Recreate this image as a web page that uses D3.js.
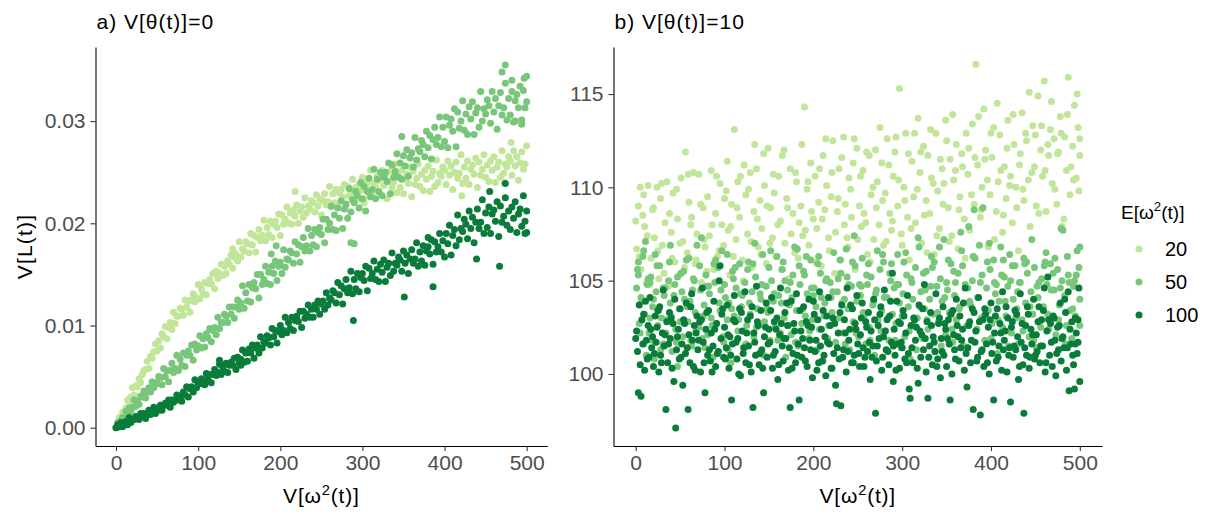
<!DOCTYPE html>
<html>
<head>
<meta charset="utf-8">
<script src="https://cdn.jsdelivr.net/npm/d3@7"></script>
<style>
  html, body { margin: 0; padding: 0; background: #fff; }
  svg { display: block; }
  text { font-family: "Liberation Sans", Arial, sans-serif; }
</style>
</head>
<body>
<svg id="chart" width="1216" height="517"></svg>
<script>
// ---------------- DATA ----------------
const categories = ["20", "50", "100"];
const panelTitles = ["a) V[θ(t)]=0", "b) V[θ(t)]=10"];
const xTicks = [0, 100, 200, 300, 400, 500];
const yTicksA = [0, 0.01, 0.02, 0.03];
const yTicksB = [100, 105, 110, 115];

// Panel a: V[θ(t)]=0  — [V[ω²(t)], V[L(t)]]
const lightA = [[0,0.0000],[2,0.0001],[4,0.0010],[6,0.0009],[8,0.0015],[10,0.0011],[12,0.0019],[14,0.0027],[16,0.0024],[18,0.0030],[20,0.0039],[22,0.0032],[24,0.0041],[26,0.0040],[28,0.0048],[30,0.0044],[32,0.0052],[34,0.0056],[36,0.0057],[38,0.0065],[40,0.0058],[42,0.0070],[44,0.0068],[46,0.0074],[48,0.0082],[50,0.0075],[52,0.0085],[54,0.0078],[56,0.0092],[58,0.0089],[60,0.0099],[62,0.0087],[64,0.0098],[66,0.0103],[68,0.0096],[70,0.0113],[72,0.0102],[74,0.0109],[76,0.0109],[78,0.0117],[80,0.0116],[82,0.0110],[84,0.0125],[86,0.0118],[88,0.0124],[90,0.0113],[92,0.0125],[94,0.0131],[96,0.0123],[98,0.0127],[100,0.0140],[102,0.0126],[104,0.0136],[106,0.0131],[108,0.0142],[110,0.0130],[112,0.0141],[114,0.0145],[116,0.0141],[118,0.0151],[120,0.0136],[122,0.0153],[124,0.0146],[126,0.0151],[128,0.0160],[130,0.0149],[132,0.0158],[134,0.0151],[136,0.0163],[138,0.0160],[140,0.0169],[142,0.0156],[144,0.0167],[146,0.0170],[148,0.0163],[150,0.0182],[152,0.0167],[154,0.0175],[156,0.0173],[158,0.0182],[160,0.0180],[162,0.0171],[164,0.0190],[166,0.0179],[168,0.0188],[170,0.0172],[172,0.0186],[174,0.0194],[176,0.0183],[178,0.0188],[180,0.0203],[182,0.0183],[184,0.0196],[186,0.0189],[188,0.0202],[190,0.0186],[192,0.0199],[194,0.0202],[196,0.0196],[198,0.0209],[200,0.0188],[202,0.0208],[204,0.0199],[206,0.0204],[208,0.0216],[210,0.0200],[212,0.0210],[214,0.0199],[216,0.0213],[218,0.0207],[220,0.0218],[222,0.0200],[224,0.0212],[226,0.0216],[228,0.0206],[230,0.0225],[232,0.0210],[234,0.0217],[236,0.0214],[238,0.0222],[240,0.0220],[242,0.0211],[244,0.0228],[246,0.0217],[248,0.0224],[250,0.0208],[252,0.0222],[254,0.0229],[256,0.0218],[258,0.0221],[260,0.0236],[262,0.0216],[264,0.0229],[266,0.0220],[268,0.0233],[270,0.0217],[272,0.0230],[274,0.0233],[276,0.0226],[278,0.0238],[280,0.0217],[282,0.0236],[284,0.0227],[286,0.0231],[288,0.0243],[290,0.0226],[292,0.0235],[294,0.0224],[296,0.0238],[298,0.0232],[300,0.0245],[302,0.0220],[304,0.0236],[306,0.0240],[308,0.0226],[310,0.0252],[312,0.0230],[314,0.0239],[316,0.0236],[318,0.0246],[320,0.0242],[322,0.0228],[324,0.0252],[326,0.0237],[328,0.0247],[330,0.0224],[332,0.0241],[334,0.0251],[336,0.0235],[338,0.0240],[340,0.0258],[342,0.0230],[344,0.0246],[346,0.0235],[348,0.0252],[350,0.0229],[352,0.0244],[354,0.0248],[356,0.0239],[358,0.0255],[360,0.0226],[362,0.0251],[364,0.0238],[366,0.0244],[368,0.0258],[370,0.0236],[372,0.0248],[374,0.0232],[376,0.0252],[378,0.0243],[380,0.0256],[382,0.0231],[384,0.0246],[386,0.0251],[388,0.0236],[390,0.0262],[392,0.0240],[394,0.0249],[396,0.0246],[398,0.0255],[400,0.0252],[402,0.0238],[404,0.0261],[406,0.0247],[408,0.0256],[410,0.0233],[412,0.0250],[414,0.0260],[416,0.0244],[418,0.0249],[420,0.0267],[422,0.0239],[424,0.0255],[426,0.0244],[428,0.0261],[430,0.0238],[432,0.0253],[434,0.0257],[436,0.0248],[438,0.0264],[440,0.0235],[442,0.0260],[444,0.0247],[446,0.0253],[448,0.0267],[450,0.0245],[452,0.0257],[454,0.0241],[456,0.0261],[458,0.0252],[460,0.0265],[462,0.0240],[464,0.0255],[466,0.0260],[468,0.0245],[470,0.0271],[472,0.0249],[474,0.0258],[476,0.0255],[478,0.0265],[480,0.0261],[482,0.0247],[484,0.0271],[486,0.0256],[488,0.0265],[490,0.0242],[492,0.0259],[494,0.0270],[496,0.0253],[498,0.0258],[500,0.0276],
[142,0.0175],[218,0.0231],[421,0.0227],[473,0.0240],[481,0.0279]];

const midA = [[0,0.0000],[2,0.0005],[4,0.0001],[6,0.0007],[8,0.0010],[10,0.0009],[12,0.0016],[14,0.0008],[16,0.0019],[18,0.0016],[20,0.0020],[22,0.0027],[24,0.0021],[26,0.0026],[28,0.0023],[30,0.0031],[32,0.0030],[34,0.0036],[36,0.0029],[38,0.0035],[40,0.0039],[42,0.0035],[44,0.0045],[46,0.0039],[48,0.0044],[50,0.0043],[52,0.0050],[54,0.0049],[56,0.0042],[58,0.0058],[60,0.0050],[62,0.0056],[64,0.0045],[66,0.0056],[68,0.0063],[70,0.0054],[72,0.0058],[74,0.0071],[76,0.0056],[78,0.0067],[80,0.0061],[82,0.0073],[84,0.0060],[86,0.0071],[88,0.0075],[90,0.0071],[92,0.0081],[94,0.0066],[96,0.0082],[98,0.0076],[100,0.0080],[102,0.0090],[104,0.0078],[106,0.0087],[108,0.0079],[110,0.0092],[112,0.0088],[114,0.0097],[116,0.0084],[118,0.0095],[120,0.0098],[122,0.0091],[124,0.0108],[126,0.0097],[128,0.0103],[130,0.0103],[132,0.0111],[134,0.0109],[136,0.0103],[138,0.0118],[140,0.0111],[142,0.0118],[144,0.0107],[146,0.0118],[148,0.0125],[150,0.0116],[152,0.0122],[154,0.0139],[156,0.0117],[158,0.0132],[160,0.0124],[162,0.0140],[164,0.0123],[166,0.0137],[168,0.0142],[170,0.0136],[172,0.0150],[174,0.0127],[176,0.0150],[178,0.0140],[180,0.0145],[182,0.0158],[184,0.0141],[186,0.0152],[188,0.0140],[190,0.0158],[192,0.0151],[194,0.0163],[196,0.0144],[198,0.0158],[200,0.0162],[202,0.0151],[204,0.0174],[206,0.0157],[208,0.0165],[210,0.0164],[212,0.0173],[214,0.0171],[216,0.0161],[218,0.0182],[220,0.0170],[222,0.0179],[224,0.0162],[226,0.0177],[228,0.0186],[230,0.0173],[232,0.0178],[234,0.0195],[236,0.0173],[238,0.0188],[240,0.0179],[242,0.0194],[244,0.0177],[246,0.0191],[248,0.0196],[250,0.0189],[252,0.0204],[254,0.0181],[256,0.0204],[258,0.0194],[260,0.0200],[262,0.0217],[264,0.0194],[266,0.0208],[268,0.0193],[270,0.0215],[272,0.0205],[274,0.0222],[276,0.0195],[278,0.0214],[280,0.0219],[282,0.0205],[284,0.0234],[286,0.0211],[288,0.0223],[290,0.0220],[292,0.0231],[294,0.0227],[296,0.0215],[298,0.0240],[300,0.0224],[302,0.0236],[304,0.0212],[306,0.0231],[308,0.0244],[310,0.0226],[312,0.0233],[314,0.0253],[316,0.0224],[318,0.0243],[320,0.0231],[322,0.0250],[324,0.0227],[326,0.0245],[328,0.0250],[330,0.0241],[332,0.0259],[334,0.0229],[336,0.0257],[338,0.0245],[340,0.0251],[342,0.0268],[344,0.0245],[346,0.0259],[348,0.0243],[350,0.0266],[352,0.0256],[354,0.0272],[356,0.0246],[358,0.0264],[360,0.0269],[362,0.0255],[364,0.0284],[366,0.0262],[368,0.0273],[370,0.0270],[372,0.0281],[374,0.0277],[376,0.0265],[378,0.0290],[380,0.0274],[382,0.0286],[384,0.0263],[386,0.0282],[388,0.0294],[390,0.0277],[392,0.0284],[394,0.0304],[396,0.0275],[398,0.0294],[400,0.0280],[402,0.0304],[404,0.0274],[406,0.0296],[408,0.0302],[410,0.0290],[412,0.0312],[414,0.0275],[416,0.0309],[418,0.0293],[420,0.0300],[422,0.0320],[424,0.0291],[426,0.0307],[428,0.0287],[430,0.0314],[432,0.0302],[434,0.0319],[436,0.0287],[438,0.0308],[440,0.0313],[442,0.0294],[444,0.0329],[446,0.0300],[448,0.0312],[450,0.0307],[452,0.0321],[454,0.0315],[456,0.0298],[458,0.0329],[460,0.0309],[462,0.0322],[464,0.0292],[466,0.0315],[468,0.0328],[470,0.0306],[472,0.0313],[474,0.0337],[476,0.0301],[478,0.0322],[480,0.0306],[482,0.0329],[484,0.0299],[486,0.0320],[488,0.0326],[490,0.0313],[492,0.0334],[494,0.0297],[496,0.0330],[498,0.0313],[500,0.0319],
[189,0.0170],[195,0.0178],[286,0.0181],[290,0.0180],[348,0.0285],[470,0.0348],[474,0.0355],[482,0.0340],[486,0.0300],[494,0.0301],[497,0.0342],[500,0.0344]];

const darkA = [[0,0.0000],[2,0.0003],[4,0.0001],[6,0.0005],[8,0.0001],[10,0.0004],[12,0.0006],[14,0.0003],[16,0.0010],[18,0.0005],[20,0.0008],[22,0.0008],[24,0.0011],[26,0.0010],[28,0.0008],[30,0.0014],[32,0.0011],[34,0.0014],[36,0.0009],[38,0.0013],[40,0.0017],[42,0.0013],[44,0.0016],[46,0.0020],[48,0.0014],[50,0.0019],[52,0.0017],[54,0.0022],[56,0.0017],[58,0.0022],[60,0.0024],[62,0.0022],[64,0.0027],[66,0.0020],[68,0.0027],[70,0.0025],[72,0.0027],[74,0.0032],[76,0.0027],[78,0.0031],[80,0.0026],[82,0.0035],[84,0.0032],[86,0.0040],[88,0.0030],[90,0.0038],[92,0.0040],[94,0.0035],[96,0.0047],[98,0.0039],[100,0.0043],[102,0.0043],[104,0.0048],[106,0.0047],[108,0.0042],[110,0.0053],[112,0.0047],[114,0.0052],[116,0.0044],[118,0.0052],[120,0.0057],[122,0.0051],[124,0.0054],[126,0.0062],[128,0.0052],[130,0.0059],[132,0.0055],[134,0.0063],[136,0.0054],[138,0.0061],[140,0.0064],[142,0.0061],[144,0.0068],[146,0.0057],[148,0.0069],[150,0.0063],[152,0.0067],[154,0.0076],[156,0.0064],[158,0.0073],[160,0.0065],[162,0.0077],[164,0.0073],[166,0.0081],[168,0.0068],[170,0.0078],[172,0.0081],[174,0.0073],[176,0.0089],[178,0.0078],[180,0.0084],[182,0.0083],[184,0.0090],[186,0.0088],[188,0.0081],[190,0.0097],[192,0.0089],[194,0.0095],[196,0.0083],[198,0.0094],[200,0.0100],[202,0.0091],[204,0.0095],[206,0.0108],[208,0.0093],[210,0.0103],[212,0.0097],[214,0.0108],[216,0.0095],[218,0.0105],[220,0.0109],[222,0.0104],[224,0.0114],[226,0.0098],[228,0.0114],[230,0.0107],[232,0.0111],[234,0.0120],[236,0.0108],[238,0.0116],[240,0.0108],[242,0.0120],[244,0.0116],[246,0.0124],[248,0.0111],[250,0.0121],[252,0.0124],[254,0.0116],[256,0.0132],[258,0.0120],[260,0.0127],[262,0.0125],[264,0.0134],[266,0.0132],[268,0.0122],[270,0.0142],[272,0.0130],[274,0.0139],[276,0.0121],[278,0.0136],[280,0.0145],[282,0.0132],[284,0.0137],[286,0.0153],[288,0.0131],[290,0.0145],[292,0.0136],[294,0.0151],[296,0.0133],[298,0.0147],[300,0.0151],[302,0.0144],[304,0.0158],[306,0.0134],[308,0.0156],[310,0.0146],[312,0.0151],[314,0.0163],[316,0.0145],[318,0.0155],[320,0.0143],[322,0.0160],[324,0.0152],[326,0.0164],[328,0.0143],[330,0.0157],[332,0.0161],[334,0.0149],[336,0.0171],[338,0.0153],[340,0.0161],[342,0.0159],[344,0.0167],[346,0.0164],[348,0.0153],[350,0.0173],[352,0.0161],[354,0.0169],[356,0.0151],[358,0.0165],[360,0.0174],[362,0.0161],[364,0.0165],[366,0.0181],[368,0.0158],[370,0.0172],[372,0.0163],[374,0.0178],[376,0.0159],[378,0.0173],[380,0.0177],[382,0.0170],[384,0.0184],[386,0.0160],[388,0.0182],[390,0.0172],[392,0.0177],[394,0.0190],[396,0.0172],[398,0.0183],[400,0.0167],[402,0.0190],[404,0.0180],[406,0.0198],[408,0.0169],[410,0.0188],[412,0.0194],[414,0.0178],[416,0.0208],[418,0.0184],[420,0.0195],[422,0.0192],[424,0.0204],[426,0.0199],[428,0.0185],[430,0.0212],[432,0.0195],[434,0.0206],[436,0.0181],[438,0.0201],[440,0.0214],[442,0.0195],[444,0.0201],[446,0.0223],[448,0.0190],[450,0.0210],[452,0.0196],[454,0.0216],[456,0.0190],[458,0.0209],[460,0.0213],[462,0.0202],[464,0.0221],[466,0.0187],[468,0.0217],[470,0.0201],[472,0.0207],[474,0.0225],[476,0.0198],[478,0.0212],[480,0.0194],[482,0.0216],[484,0.0205],[486,0.0221],[488,0.0191],[490,0.0209],[492,0.0214],[494,0.0197],[496,0.0227],[498,0.0202],[500,0.0212],
[126,0.0066],[152,0.0061],[289,0.0105],[351,0.0128],[380,0.0186],[386,0.0138],[439,0.0165],[455,0.0231],[467,0.0158],[474,0.0239],[498,0.0190],[500,0.0191]];

// Panel b: V[θ(t)]=10
const lightB = [[1,106.7],[3,109.0],[5,110.0],[6,105.6],[8,108.5],[10,107.9],[12,104.9],[14,110.1],[17,106.2],[19,108.8],[21,107.3],[24,110.0],[26,105.1],[28,109.4],[30,106.9],[33,108.1],[35,110.3],[37,104.7],[40,107.6],[42,109.7],[44,106.0],[47,108.3],[49,105.3],[51,110.5],[53,107.1],[56,111.9],[58,106.5],[60,109.2],[62,108.0],[65,110.8],[67,105.9],[69,107.5],[71,110.7],[74,104.9],[76,108.9],[78,106.8],[81,109.5],[83,107.4],[85,110.9],[88,105.6],[90,108.6],[92,106.3],[95,110.2],[97,108.0],[99,106.9],[102,109.8],[104,107.7],[106,105.3],[108,109.1],[111,113.1],[113,107.2],[115,110.3],[117,108.4],[120,106.1],[122,111.2],[124,109.6],[126,107.5],[129,110.8],[131,105.7],[133,108.7],[136,111.0],[138,106.8],[140,109.3],[142,107.8],[145,110.1],[147,105.9],[149,112.1],[152,108.9],[154,107.3],[156,109.7],[158,106.3],[161,110.6],[163,108.2],[165,111.7],[168,107.0],[170,109.4],[172,105.1],[174,111.0],[177,108.6],[179,106.5],[181,110.3],[184,108.1],[186,109.0],[188,107.4],[190,114.3],[193,109.9],[195,106.9],[197,111.3],[200,108.3],[202,110.6],[204,107.8],[206,109.2],[209,105.8],[211,111.7],[213,108.8],[215,110.1],[218,106.6],[220,109.5],[222,112.5],[225,107.6],[227,108.7],[229,111.0],[231,106.1],[234,112.7],[236,109.1],[238,107.3],[240,110.5],[243,108.4],[245,111.3],[247,105.6],[249,112.1],[252,109.0],[254,107.9],[256,110.9],[259,108.1],[261,106.4],[263,111.7],[265,109.6],[268,107.2],[270,112.0],[272,110.3],[274,108.0],[277,111.3],[279,106.9],[281,109.7],[283,112.6],[286,108.6],[288,107.7],[290,110.6],[292,111.9],[295,109.0],[297,115.3],[299,107.5],[302,110.0],[304,112.9],[306,108.4],[308,106.1],[311,111.4],[313,109.5],[315,108.1],[318,113.7],[320,110.8],[322,107.0],[324,112.2],[327,109.3],[329,111.7],[331,108.6],[333,110.5],[336,106.4],[338,112.9],[340,109.8],[342,107.8],[345,111.0],[347,110.2],[349,113.6],[352,108.9],[354,111.5],[356,107.4],[358,110.4],[361,112.3],[363,106.7],[365,109.5],[367,111.8],[370,108.3],[372,112.9],[374,110.7],[376,107.7],[379,113.4],[381,109.1],[383,116.6],[385,111.2],[388,108.4],[390,110.0],[392,114.2],[394,112.0],[397,106.8],[399,109.6],[401,111.6],[403,113.2],[406,108.7],[408,110.3],[410,112.8],[413,107.6],[415,111.1],[417,109.4],[419,113.6],[422,110.6],[424,108.1],[426,112.3],[428,110.0],[431,106.6],[433,111.8],[435,114.0],[437,109.3],[440,112.5],[442,110.4],[444,107.9],[447,113.3],[449,111.1],[451,109.0],[453,114.9],[456,112.0],[458,110.6],[460,115.7],[462,108.7],[465,111.7],[467,113.1],[469,110.2],[471,112.6],[474,109.1],[476,111.9],[478,113.8],[480,107.9],[483,112.7],[485,110.9],[487,115.9],[489,109.6],[492,112.2],[494,114.4],[496,110.5],[498,113.2],[499,109.8],[500,111.7],
[0,108.2],[4,106.3],[9,109.6],[13,107.4],[16,104.8],[20,108.9],[25,106.6],[29,110.2],[32,105.4],[38,108.6],[41,106.2],[46,109.9],[50,107.0],[55,105.7],[59,110.7],[63,108.4],[68,106.1],[73,109.1],[77,107.2],[80,105.5],[86,108.0],[91,110.6],[94,106.6],[100,109.4],[103,111.4],[107,107.9],[110,106.3],[114,108.9],[118,110.6],[121,105.0],[127,109.9],[130,107.1],[134,112.3],[137,108.3],[141,106.4],[144,111.8],[148,109.0],[151,107.0],[155,110.7],[160,108.0],[164,105.6],[167,112.0],[171,108.9],[175,107.5],[180,110.8],[183,106.2],[187,112.3],[191,107.7],[194,110.3],[198,108.7],[203,106.0],[207,111.0],[210,108.3],[214,112.6],[217,107.3],[221,110.8],[224,105.4],[228,109.4],[232,111.6],[235,108.0],[239,106.8],[242,109.9],[246,112.6],[250,107.2],[253,110.6],[257,108.6],[260,111.9],[264,106.0],[267,110.0],[271,108.9],[275,113.2],[278,109.3],[282,107.1],[285,111.2],[289,108.2],[293,112.7],[296,110.4],[300,106.9],[303,109.3],[307,111.8],[310,107.8],[314,112.9],[317,109.9],[321,111.9],[325,108.5],[328,106.5],[332,113.1],[335,110.2],[339,107.4],[343,111.5],[346,109.1],[350,112.5],[353,107.1],[357,113.9],[360,110.9],[364,108.8],[368,111.1],[371,106.2],[375,112.1],[378,109.6],[382,111.6],[386,113.8],[389,108.8],[393,111.5],[396,110.4],[400,112.9],[404,107.2],[407,114.5],[411,110.9],[414,108.5],[418,112.1],[421,110.1],[425,113.9],[429,108.9],[432,111.2],[436,109.9],[439,112.9],[443,115.1],[446,110.8],[450,112.8],[454,108.6],[457,113.3],[461,110.9],[464,112.3],[468,114.6],[472,109.9],[475,111.8],[479,112.9],[482,108.3],[486,113.9],[490,111.1],[493,110.4],[497,115.0],[500,112.6]];

const midB = [[2,105.6],[4,102.7],[6,104.1],[8,106.3],[10,103.2],[11,107.1],[12,101.0],[13,104.8],[15,102.2],[17,105.2],[19,103.6],[21,100.8],[23,104.4],[25,102.6],[27,105.8],[29,103.0],[31,101.6],[33,104.6],[35,102.9],[37,105.0],[39,103.8],[41,101.2],[43,104.2],[45,102.4],[47,100.4],[49,103.5],[51,105.4],[53,102.0],[55,104.0],[57,106.1],[59,102.8],[61,103.9],[63,101.5],[65,105.1],[67,103.3],[69,106.9],[71,102.5],[73,104.5],[75,101.9],[77,103.7],[79,105.3],[81,102.1],[83,104.3],[85,103.0],[87,100.9],[89,104.9],[91,102.7],[93,105.7],[95,103.4],[97,106.6],[99,101.7],[101,104.1],[103,102.9],[105,103.8],[107,100.6],[109,105.5],[111,103.1],[113,104.6],[115,102.3],[117,105.9],[119,103.6],[121,101.4],[123,104.9],[125,102.6],[127,106.0],[129,103.2],[131,104.4],[133,102.0],[135,105.2],[137,103.5],[139,101.1],[141,104.0],[143,106.4],[145,102.8],[147,104.7],[149,103.3],[151,101.8],[153,105.0],[155,103.9],[157,102.5],[159,106.3],[161,104.2],[163,102.2],[165,105.6],[167,103.0],[169,100.9],[171,104.5],[173,103.7],[175,102.1],[177,105.3],[179,106.8],[181,103.4],[183,101.5],[185,104.8],[187,102.7],[189,105.5],[191,103.1],[193,104.3],[195,101.9],[197,106.1],[199,102.9],[201,104.6],[203,103.6],[205,105.9],[207,102.4],[209,104.1],[211,100.7],[213,103.8],[215,105.1],[217,102.6],[219,104.9],[221,103.3],[223,106.5],[225,101.7],[227,104.4],[229,103.0],[231,105.4],[233,102.2],[235,104.0],[237,106.7],[239,103.5],[241,101.3],[243,104.7],[245,102.8],[247,105.8],[249,103.9],[251,102.0],[253,104.2],[255,106.2],[257,103.1],[259,101.6],[261,104.8],[263,102.5],[265,105.2],[267,103.7],[269,101.0],[271,104.5],[273,102.9],[275,105.6],[277,103.4],[279,106.0],[281,102.3],[283,104.1],[285,101.8],[287,105.0],[289,103.2],[291,104.6],[293,102.7],[295,106.4],[297,103.8],[299,101.4],[301,104.3],[303,102.0],[305,105.3],[307,103.6],[309,100.8],[311,104.9],[313,102.6],[315,105.7],[317,103.0],[319,106.8],[321,104.4],[323,101.9],[325,103.5],[327,105.5],[329,102.4],[331,104.0],[333,106.3],[335,103.2],[337,101.2],[339,104.7],[341,102.8],[343,105.1],[345,103.9],[347,107.2],[349,102.1],[351,104.5],[353,103.3],[355,105.9],[357,101.7],[359,104.2],[361,102.9],[363,105.4],[365,103.6],[367,106.6],[369,101.5],[371,104.8],[373,102.6],[375,107.9],[377,103.7],[379,105.0],[381,108.8],[383,102.3],[385,104.1],[387,106.9],[389,103.0],[391,108.9],[393,101.8],[395,104.6],[397,103.4],[399,105.6],[401,102.7],[403,106.1],[405,104.3],[407,101.1],[409,103.9],[411,106.8],[413,102.5],[415,105.2],[417,103.1],[419,104.7],[421,106.4],[423,102.2],[425,104.0],[427,105.8],[429,103.5],[431,101.6],[433,104.9],[435,102.9],[437,106.2],[439,103.8],[441,105.4],[443,102.0],[445,104.4],[447,103.2],[449,105.7],[451,101.4],[453,104.1],[455,102.8],[457,105.1],[459,103.6],[461,106.0],[463,104.8],[465,102.4],[467,105.9],[469,103.0],[471,104.5],[473,102.1],[475,105.6],[477,103.7],[479,107.8],[481,107.7],[483,104.2],[485,102.6],[487,105.3],[489,103.4],[491,101.9],[493,104.7],[495,103.1],[497,106.6],[499,105.7],[500,104.0],
[1,104.6],[3,106.0],[5,102.2],[7,103.9],[9,101.6],[14,105.1],[16,103.0],[18,101.8],[20,104.0],[22,106.4],[26,103.4],[28,101.3],[32,104.2],[34,102.2],[38,106.0],[40,103.1],[44,104.8],[46,101.7],[50,102.8],[54,105.5],[58,103.6],[62,101.8],[64,104.5],[68,102.3],[72,105.8],[76,103.1],[78,101.4],[82,104.7],[86,102.6],[90,106.1],[94,103.8],[98,102.0],[100,104.8],[104,101.3],[108,103.5],[112,105.7],[116,102.9],[120,104.2],[124,101.6],[128,103.8],[132,105.9],[136,102.5],[140,104.3],[144,101.0],[148,103.5],[152,106.6],[156,104.3],[160,101.8],[164,103.8],[168,105.0],[172,102.6],[176,104.1],[180,101.7],[184,105.8],[188,103.5],[192,106.3],[196,102.3],[200,104.2],[204,101.3],[208,105.4],[212,103.1],[216,101.9],[220,104.1],[224,102.8],[228,105.1],[232,103.8],[236,101.6],[240,104.8],[244,106.0],[248,102.2],[252,104.8],[256,103.3],[260,105.3],[264,101.8],[268,103.9],[272,106.6],[276,102.3],[280,104.1],[284,103.0],[288,105.9],[292,101.8],[296,104.8],[300,103.1],[304,106.5],[308,102.3],[312,104.0],[316,101.3],[320,103.6],[324,105.4],[328,102.9],[332,104.7],[336,106.0],[340,103.3],[344,101.5],[348,104.1],[352,106.1],[356,102.4],[360,104.9],[364,103.5],[368,105.8],[372,101.3],[376,103.9],[380,106.3],[384,102.4],[388,104.9],[392,103.1],[396,106.0],[400,101.9],[404,104.9],[408,102.9],[412,105.3],[416,103.9],[420,101.5],[424,105.8],[428,103.0],[432,104.9],[436,102.3],[440,106.0],[444,103.6],[448,101.8],[452,104.7],[456,102.5],[460,105.8],[464,103.2],[468,104.5],[472,106.2],[476,102.9],[480,105.0],[484,101.6],[488,104.9],[492,103.5],[496,105.3],[500,102.6],
[3,105.3],[9,106.6],[16,104.9],[24,105.8],[31,104.6],[39,106.9],[47,105.2],[52,104.4],[60,106.2],[66,105.0],[74,107.3],[80,104.7],[88,105.9],[96,104.5],[103,106.4],[110,105.1],[118,104.3],[126,105.6],[134,107.0],[142,104.8],[150,105.7],[158,104.2],[166,106.0],[174,104.9],[182,106.7],[190,105.3],[198,104.6],[206,106.3],[214,105.0],[222,104.4],[230,106.1],[238,105.2],[246,107.4],[254,104.7],[262,105.9],[270,104.3],[278,106.4],[286,105.4],[294,104.8],[302,106.0],[310,105.1],[318,107.3],[326,104.5],[334,105.7],[342,106.8],[350,104.9],[358,105.5],[366,107.6],[374,104.6],[382,106.2],[390,105.3],[398,107.0],[406,104.8],[414,106.1],[422,105.0],[430,104.4],[438,105.9],[446,107.2],[454,104.9],[462,106.5],[470,105.4],[478,104.6],[486,106.3],[494,105.0],[500,106.8]];

const darkB = [[1,102.3],[2,101.2],[3,99.0],[4,103.7],[5,100.5],[6,98.8],[7,102.9],[8,101.6],[10,100.2],[11,103.9],[12,101.8],[14,102.6],[15,100.9],[16,104.1],[18,101.4],[19,102.0],[20,100.4],[22,103.1],[23,101.7],[24,102.5],[26,100.1],[27,103.6],[28,101.0],[30,102.2],[31,104.5],[32,101.5],[34,98.1],[35,102.8],[36,100.6],[38,103.3],[39,101.9],[41,100.3],[42,102.7],[44,104.0],[45,97.1],[46,101.3],[48,102.4],[49,100.8],[50,103.5],[52,101.6],[53,99.4],[54,102.9],[56,101.1],[57,103.8],[59,98.1],[60,102.1],[61,100.6],[63,104.3],[64,101.8],[66,102.6],[67,100.2],[69,103.1],[70,101.3],[72,102.8],[73,100.1],[75,104.6],[76,101.7],[78,99.0],[79,102.4],[81,101.0],[82,103.4],[84,100.7],[85,102.2],[87,101.5],[88,103.9],[90,100.4],[91,102.7],[93,101.2],[94,105.0],[95,105.8],[96,101.9],[97,103.2],[99,100.9],[100,102.5],[102,101.4],[103,103.7],[105,100.3],[106,102.0],[108,98.6],[109,101.6],[111,104.2],[112,102.8],[114,100.8],[115,101.9],[117,103.5],[118,99.9],[120,102.3],[121,101.1],[123,104.4],[124,100.6],[126,102.9],[127,101.5],[129,103.1],[130,100.1],[132,98.2],[133,102.2],[135,101.0],[136,104.7],[138,102.6],[139,100.5],[141,103.4],[142,101.3],[144,99.0],[145,102.0],[147,103.8],[148,100.9],[150,102.4],[151,101.7],[153,104.1],[154,100.3],[156,102.8],[157,101.2],[159,103.0],[160,99.7],[162,102.1],[163,104.6],[165,101.5],[166,100.7],[168,103.3],[169,101.9],[171,102.6],[172,100.2],[174,98.2],[175,103.9],[177,101.1],[178,102.7],[180,100.6],[181,104.3],[183,101.6],[184,98.6],[186,102.3],[187,100.9],[189,103.6],[190,101.4],[192,102.8],[193,100.4],[195,104.0],[196,101.8],[198,102.5],[199,99.8],[201,103.2],[202,101.2],[204,100.2],[205,102.9],[207,104.4],[208,101.5],[210,100.7],[211,103.4],[213,102.0],[214,99.9],[216,101.7],[217,104.1],[219,102.6],[220,100.3],[222,103.0],[223,101.1],[225,99.4],[226,98.4],[228,102.2],[229,100.8],[231,98.3],[232,103.7],[234,101.3],[235,102.9],[237,100.1],[238,104.6],[240,101.8],[241,102.4],[243,100.6],[244,103.5],[246,101.0],[247,102.7],[249,104.2],[250,101.6],[252,100.4],[253,102.1],[255,103.8],[256,101.4],[258,100.9],[259,102.8],[261,101.2],[262,103.3],[264,99.7],[265,102.3],[267,101.5],[268,104.0],[270,97.9],[271,100.7],[273,102.6],[274,101.9],[276,103.6],[277,100.2],[279,102.0],[280,104.5],[282,101.3],[283,102.9],[285,100.5],[286,103.1],[288,101.7],[289,105.4],[290,99.6],[291,102.4],[292,101.0],[294,103.9],[295,101.6],[297,100.3],[298,102.7],[300,101.4],[301,103.4],[303,100.8],[304,102.2],[306,104.2],[307,101.1],[308,99.2],[309,98.7],[310,102.6],[312,100.6],[313,103.0],[315,101.8],[316,102.5],[318,99.5],[319,103.7],[321,100.9],[322,102.1],[324,101.3],[325,104.8],[327,100.1],[328,102.8],[329,98.7],[331,101.5],[332,103.3],[334,100.5],[335,102.0],[337,101.2],[338,104.3],[340,100.8],[341,102.7],[343,99.8],[344,101.9],[346,103.6],[347,101.0],[349,102.4],[350,100.4],[352,102.9],[353,101.6],[354,98.6],[355,103.2],[356,100.0],[358,102.1],[359,101.3],[361,104.0],[362,102.6],[364,100.7],[365,103.1],[367,101.8],[368,102.4],[370,100.2],[371,104.6],[373,99.3],[374,101.4],[376,102.8],[377,100.6],[379,103.5],[380,98.1],[382,101.7],[383,102.3],[385,100.9],[386,104.1],[388,97.8],[389,101.2],[391,102.9],[392,100.4],[394,103.2],[395,101.6],[397,102.5],[398,100.0],[400,103.8],[401,101.1],[403,98.6],[404,102.2],[406,100.7],[407,103.5],[409,101.5],[410,102.7],[412,100.2],[413,104.4],[415,101.8],[416,102.3],[418,100.1],[419,103.0],[421,101.4],[422,98.5],[424,102.8],[425,100.9],[427,103.4],[428,101.3],[430,102.0],[431,99.7],[433,104.3],[434,101.7],[436,100.5],[437,97.9],[439,102.6],[440,101.0],[442,103.2],[443,100.3],[445,102.4],[446,101.6],[448,104.0],[449,100.8],[451,102.1],[452,101.2],[454,103.6],[455,100.6],[457,102.9],[458,101.5],[460,104.6],[461,100.1],[463,102.3],[464,105.2],[466,101.0],[467,102.7],[469,100.4],[470,103.1],[472,101.8],[473,99.9],[475,102.5],[476,101.3],[478,103.8],[479,100.7],[481,102.0],[482,101.4],[484,103.3],[485,100.2],[487,104.4],[488,99.1],[490,101.6],[491,102.8],[493,100.5],[494,99.2],[495,103.0],[496,102.2],[497,101.1],[498,101.7],[499,104.6],[500,99.6],
[0,101.9],[9,103.2],[13,100.8],[17,102.4],[21,101.1],[25,103.4],[29,100.6],[33,102.1],[37,101.6],[40,103.0],[43,99.6],[47,102.0],[51,100.9],[55,102.7],[58,101.4],[62,103.6],[65,100.4],[68,102.2],[71,101.8],[74,102.9],[77,100.6],[80,103.3],[83,101.3],[86,100.1],[89,102.4],[92,101.1],[98,103.5],[101,100.8],[104,102.1],[107,101.0],[110,102.9],[113,101.7],[116,100.0],[119,103.3],[122,101.4],[125,102.2],[128,100.5],[131,103.6],[134,101.7],[137,102.8],[140,101.1],[143,100.3],[146,102.5],[149,101.6],[152,103.4],[155,101.0],[158,102.4],[161,100.5],[164,102.7],[167,101.9],[170,103.8],[173,101.4],[176,100.3],[179,102.3],[182,101.0],[185,103.4],[188,101.9],[191,100.7],[194,102.6],[197,101.3],[200,103.9],[203,101.8],[206,100.6],[209,102.4],[212,101.0],[215,103.1],[218,101.6],[221,100.3],[224,102.7],[227,101.4],[230,103.3],[233,100.9],[236,102.2],[239,101.2],[242,103.7],[245,100.6],[248,102.4],[251,101.1],[254,103.0],[257,100.4],[260,102.5],[263,101.7],[266,100.9],[269,102.9],[272,101.5],[275,103.2],[278,100.9],[281,102.3],[284,101.2],[287,103.9],[290,101.5],[293,100.2],[296,102.8],[299,101.7],[302,103.1],[305,100.6],[311,101.4],[314,102.9],[317,100.3],[320,102.3],[323,103.5],[326,101.9],[330,100.9],[333,102.6],[336,101.7],[339,100.4],[342,103.0],[345,101.2],[348,102.7],[351,101.9],[357,103.4],[360,100.8],[363,102.0],[366,101.4],[369,103.8],[372,101.1],[375,102.6],[378,101.8],[381,103.3],[384,100.7],[387,102.8],[390,101.3],[393,103.5],[396,100.6],[399,102.9],[402,101.7],[405,103.1],[408,100.9],[411,102.2],[414,101.3],[417,103.6],[420,101.0],[423,102.5],[426,101.5],[429,103.2],[432,100.4],[435,102.7],[438,101.4],[441,103.6],[444,100.9],[447,102.1],[450,101.0],[453,102.8],[456,101.5],[459,103.4],[462,100.6],[465,102.9],[468,101.7],[471,103.0],[474,101.1],[477,102.6],[480,101.9],[483,104.0],[486,101.4],[489,102.4],[492,101.0],[495,101.6],[498,102.9]];

// ---------------- STYLE ----------------
const palette = ["#C2E699", "#78C679", "#0A7C3A"];
const W = 1216, H = 517;
const panelTop = 47, panelBottom = 446;
const R = 3.5;
const panels = [
  { title: panelTitles[0], left: 95.5, right: 547.2, ydom: [-0.00179, 0.03725], yticks: yTicksA, fmt: d3.format(".2f"), series: [lightA, midA, darkA], ylab: "V[L(t)]" },
  { title: panelTitles[1], left: 613.5, right: 1102, ydom: [96.14, 117.52], yticks: yTicksB, fmt: d3.format("d"), series: [lightB, midB, darkB], ylab: null }
];

const svg = d3.select("#chart");
svg.append("rect").attr("width", W).attr("height", H).attr("fill", "#fff");

function omegaLabel(sel, prefix) {
  sel.append("tspan").text(prefix + "[ω");
  sel.append("tspan").attr("dy", -8).attr("font-size", "0.7em").text("2");
  sel.append("tspan").attr("dy", 8).text("(t)]");
}

panels.forEach(p => {
  const x = d3.scaleLinear().domain([-25, 525]).range([p.left, p.right]);
  const y = d3.scaleLinear().domain(p.ydom).range([panelBottom, panelTop]);
  const g = svg.append("g");

  p.series.forEach((s, i) => {
    g.append("g").selectAll("circle").data(s).join("circle")
      .attr("cx", d => x(d[0]))
      .attr("cy", d => y(d[1]))
      .attr("r", R)
      .attr("fill", palette[i]);
  });

  const xAxis = g.append("g").attr("transform", `translate(0,${panelBottom})`)
    .call(d3.axisBottom(x).tickValues(xTicks).tickSize(5).tickSizeOuter(0).tickPadding(4).tickFormat(d3.format("d")));
  const yAxis = g.append("g").attr("transform", `translate(${p.left},0)`)
    .call(d3.axisLeft(y).tickValues(p.yticks).tickSize(5).tickSizeOuter(0).tickPadding(5).tickFormat(p.fmt));
  [xAxis, yAxis].forEach(a => {
    a.select(".domain").attr("stroke", "#000").attr("stroke-width", 1.1);
    a.selectAll(".tick line").attr("stroke", "#333").attr("stroke-width", 1.1);
    a.selectAll(".tick text").attr("fill", "#4D4D4D").attr("font-size", 21)
      .attr("font-family", '"Liberation Sans", Arial, sans-serif');
  });

  svg.append("text").attr("x", p.left + 1).attr("y", 29)
    .attr("font-size", 21).attr("letter-spacing", 1).attr("fill", "#000").text(p.title);

  const xt = svg.append("text").attr("x", (p.left + p.right) / 2).attr("y", 503)
    .attr("text-anchor", "middle").attr("font-size", 21).attr("letter-spacing", 0.8).attr("fill", "#000");
  omegaLabel(xt, "V");

  if (p.ylab) {
    svg.append("text").attr("transform", `translate(32,${(panelTop + panelBottom) / 2}) rotate(-90)`)
      .attr("text-anchor", "middle").attr("font-size", 21).attr("letter-spacing", 1.2).attr("fill", "#000").text(p.ylab);
  }
});

// legend
const lg = svg.append("g");
const lt = lg.append("text").attr("x", 1121).attr("y", 219).attr("font-size", 19).attr("fill", "#000");
omegaLabel(lt, "E");
categories.forEach((c, i) => {
  const cy = 249 + i * 33;
  lg.append("circle").attr("cx", 1139).attr("cy", cy).attr("r", R).attr("fill", palette[i]);
  lg.append("text").attr("x", 1165).attr("y", cy + 7).attr("font-size", 20).attr("fill", "#000").text(c);
});
</script>
</body>
</html>
